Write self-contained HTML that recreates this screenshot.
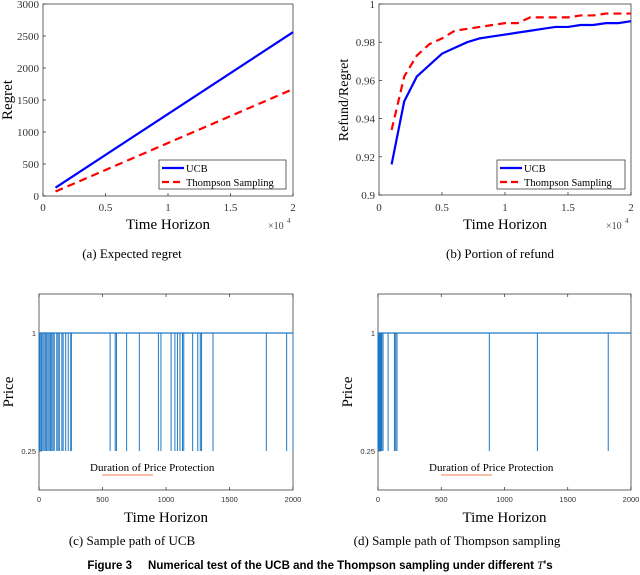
<!DOCTYPE html>
<html><head><meta charset="utf-8"><style>
body{margin:0;background:#fff}
svg{display:block}
.ser{font-family:"Liberation Serif",serif}
.san{font-family:"Liberation Sans",sans-serif}
</style></head><body>
<svg id="fig" width="640" height="575" viewBox="0 0 640 575" xmlns="http://www.w3.org/2000/svg">
<text class="ser" x="132" y="258" font-size="13" text-anchor="middle">(a) Expected regret</text>
<text class="ser" x="500" y="258" font-size="13" text-anchor="middle">(b) Portion of refund</text>
<text class="ser" x="132" y="545" font-size="13" text-anchor="middle">(c) Sample path of UCB</text>
<text class="ser" x="457" y="545" font-size="13" text-anchor="middle">(d) Sample path of Thompson sampling</text>
<text class="san" x="320" y="569" font-size="11.5" font-weight="bold" text-anchor="middle">Figure 3 &#160;&#160;&#160; Numerical test of the UCB and the Thompson sampling under different <tspan class="ser" font-style="italic" font-weight="normal">T</tspan>'s</text>
</svg>
<script>
const regretX = [1000, 20000];
const regretUCB = [130, 2560];
const regretTS = [70, 1670];
const refundX = [1000,2000,3000,4000,5000,6000,7000,8000,9000,10000,11000,12000,13000,14000,15000,16000,17000,18000,19000,20000];
const refundUCB = [0.916,0.949,0.962,0.968,0.974,0.977,0.980,0.982,0.983,0.984,0.985,0.986,0.987,0.988,0.988,0.989,0.989,0.990,0.990,0.991];
const refundTS = [0.934,0.962,0.973,0.979,0.982,0.986,0.987,0.988,0.989,0.990,0.990,0.993,0.993,0.993,0.993,0.994,0.994,0.995,0.995,0.995];
const ucbDrops = [0,5,10,20,30,40,50,60,70,80,90,100,110,120,140,150,160,180,190,210,230,250,255,560,600,610,690,790,940,960,1040,1070,1090,1110,1130,1140,1210,1250,1270,1280,1370,1790,1950,2000];
const tsDrops = [0,5,10,15,20,25,30,40,80,130,140,150,880,1260,1820];
const ticksA = [0,500,1000,1500,2000,2500,3000];
const ticksB = [0.9,0.92,0.94,0.96,0.98,1];
const ticksX1 = [0,0.5,1,1.5,2];
const ticksX2 = [0,500,1000,1500,2000];

const NS="http://www.w3.org/2000/svg";
const svg=document.getElementById('fig');
function el(tag,attrs,parent,txt){const e=document.createElementNS(NS,tag);for(const k in attrs)e.setAttribute(k,attrs[k]);if(txt!==undefined)e.textContent=txt;(parent||svg).appendChild(e);return e;}
function lin(d0,d1,r0,r1){return v=>r0+(v-d0)/(d1-d0)*(r1-r0);}

function axesBox(g,x0,x1,y0,y1){
  const r=el('rect',{x:x0,y:y0,width:x1-x0,height:y1-y0,fill:'none',stroke:'#262626','stroke-width':0.7},g);
  
}

// Panel a
{
const g=el('g',{});
const X=lin(0,20000,43,293),Y=lin(0,3000,196,4);
axesBox(g,43,293,4,196);
ticksA.forEach(t=>{el('line',{x1:43,x2:46,y1:Y(t),y2:Y(t),stroke:'#262626','stroke-width':0.7},g);
 const tx=el('text',{x:39,y:Y(t)+4,'font-size':11,'text-anchor':'end',class:'ser',fill:'#333'},g,String(t));});
ticksX1.forEach(t=>{el('line',{x1:X(t*1e4),x2:X(t*1e4),y1:196,y2:193,stroke:'#262626','stroke-width':0.7},g);
 const tx=el('text',{x:X(t*1e4),y:211,'font-size':11,'text-anchor':'middle',class:'ser',fill:'#333'},g,String(t));});
let t=el('text',{x:168,y:229,'font-size':15,'text-anchor':'middle',class:'ser'},g,'Time Horizon');
t=el('text',{x:268,y:229,'font-size':10,class:'ser',fill:'#444'},g,'×10');
el('text',{x:287,y:223,'font-size':7,class:'ser',fill:'#444'},g,'4');
t=el('text',{x:0,y:0,'font-size':15,'text-anchor':'middle',class:'ser',transform:'translate(12,100) rotate(-90)'},g,'Regret');
let p=el('polyline',{points:regretX.map((x,i)=>X(x)+','+Y(regretUCB[i])).join(' '),fill:'none',stroke:'#0000ff','stroke-width':2.2},g);
p=el('polyline',{points:regretX.map((x,i)=>X(x)+','+Y(regretTS[i])).join(' '),fill:'none',stroke:'#ff0000','stroke-width':2.2,'stroke-dasharray':'8,5'},g);
const lg=el('g',{},g);
el('rect',{x:159,y:160,width:127,height:29,fill:'#fff',stroke:'#262626','stroke-width':0.7},lg);
el('line',{x1:162,x2:184,y1:168,y2:168,stroke:'#0000ff','stroke-width':2.2},lg);
el('text',{x:186,y:172,'font-size':10.5,class:'ser'},lg,'UCB');
el('line',{x1:162,x2:184,y1:182,y2:182,stroke:'#ff0000','stroke-width':2.2,'stroke-dasharray':'7,4'},lg);
el('text',{x:186,y:186,'font-size':10.5,class:'ser'},lg,'Thompson Sampling');
}
// Panel b
{
const g=el('g',{});
const X=lin(0,20000,379,631),Y=lin(0.9,1,195,4);
axesBox(g,379,631,4,195);
ticksB.forEach(t=>{el('line',{x1:379,x2:382,y1:Y(t),y2:Y(t),stroke:'#262626','stroke-width':0.7},g);
 const tx=el('text',{x:375,y:Y(t)+4,'font-size':11,'text-anchor':'end',class:'ser',fill:'#333'},g,String(t));});
ticksX1.forEach(t=>{el('line',{x1:X(t*1e4),x2:X(t*1e4),y1:195,y2:192,stroke:'#262626','stroke-width':0.7},g);
 const tx=el('text',{x:X(t*1e4),y:211,'font-size':11,'text-anchor':'middle',class:'ser',fill:'#333'},g,String(t));});
let t=el('text',{x:505,y:229,'font-size':15,'text-anchor':'middle',class:'ser'},g,'Time Horizon');
el('text',{x:606,y:229,'font-size':10,class:'ser',fill:'#444'},g,'×10');
el('text',{x:625,y:223,'font-size':7,class:'ser',fill:'#444'},g,'4');
t=el('text',{x:0,y:0,'font-size':14,'text-anchor':'middle',class:'ser',transform:'translate(348,100) rotate(-90)'},g,'Refund/Regret');
let p=el('polyline',{points:refundX.map((x,i)=>X(x)+','+Y(refundUCB[i])).join(' '),fill:'none',stroke:'#0000ff','stroke-width':2.2},g);
p=el('polyline',{points:refundX.map((x,i)=>X(x)+','+Y(refundTS[i])).join(' '),fill:'none',stroke:'#ff0000','stroke-width':2.2,'stroke-dasharray':'8,5'},g);
const lg=el('g',{},g);
el('rect',{x:497,y:160,width:128,height:29,fill:'#fff',stroke:'#262626','stroke-width':0.7},lg);
el('line',{x1:500,x2:522,y1:168,y2:168,stroke:'#0000ff','stroke-width':2.2},lg);
el('text',{x:524,y:172,'font-size':10.5,class:'ser'},lg,'UCB');
el('line',{x1:500,x2:522,y1:182,y2:182,stroke:'#ff0000','stroke-width':2.2,'stroke-dasharray':'7,4'},lg);
el('text',{x:524,y:186,'font-size':10.5,class:'ser'},lg,'Thompson Sampling');
}
// Panels c, d
function pathPanel(name,drops,x0,x1){
const g=el('g',{});
const X=lin(0,2000,x0,x1),Y=lin(0.25,1,451,333);
axesBox(g,x0,x1,294,490);
[0.25,1].forEach(t=>{el('line',{x1:x0,x2:x0+3,y1:Y(t),y2:Y(t),stroke:'#262626','stroke-width':0.7},g);
 const tx=el('text',{x:x0-3,y:Y(t)+3,'font-size':7.5,'text-anchor':'end',class:'san',fill:'#333'},g,String(t));});
ticksX2.forEach(t=>{el('line',{x1:X(t),x2:X(t),y1:490,y2:487,stroke:'#262626','stroke-width':0.7},g);el('line',{x1:X(t),x2:X(t),y1:294,y2:297,stroke:'#262626','stroke-width':0.7},g);
 const tx=el('text',{x:X(t),y:502,'font-size':7.5,'text-anchor':'middle',class:'san',fill:'#333'},g,String(t));});
let t=el('text',{x:(x0+x1)/2,y:522,'font-size':15,'text-anchor':'middle',class:'ser'},g,'Time Horizon');
t=el('text',{x:0,y:0,'font-size':15,'text-anchor':'middle',class:'ser',transform:'translate('+(x0-26)+',392) rotate(-90)'},g,'Price');
const base=el('line',{x1:X(0),x2:X(2000),y1:Y(1),y2:Y(1),stroke:'#1f77c4','stroke-width':1.2},g);
drops.forEach(d=>{const l=el('line',{x1:X(d),x2:X(d),y1:Y(1),y2:Y(0.25),stroke:'#1f77c4','stroke-width':1},g);});
t=el('text',{x:x0+51,y:471,'font-size':11,class:'ser'},g,'Duration of Price Protection');
el('line',{x1:x0+63,x2:x0+114,y1:475,y2:475,stroke:'#f08050','stroke-width':1},g);
}
pathPanel('panel-c-ucb-path',ucbDrops,39,293);
pathPanel('panel-d-thompson-path',tsDrops,378,631);
</script>
</body></html>
